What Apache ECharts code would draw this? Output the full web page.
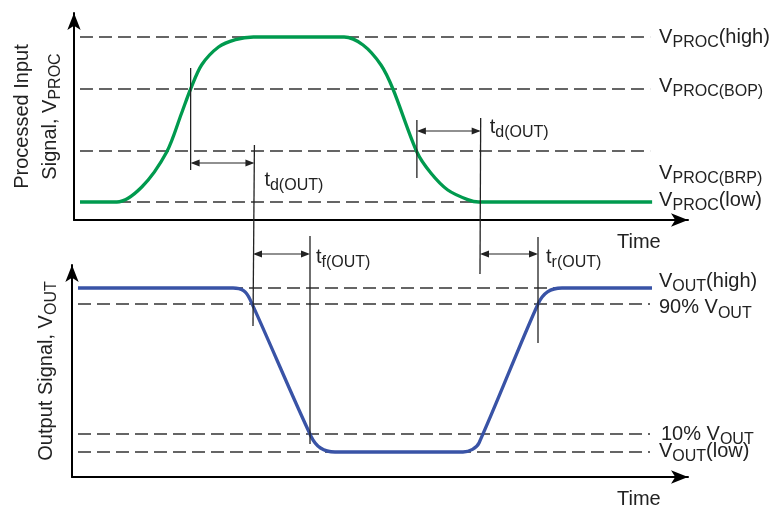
<!DOCTYPE html>
<html>
<head>
<meta charset="utf-8">
<script src="https://cdn.jsdelivr.net/npm/echarts@6/dist/echarts.min.js"></script>
<style>
  html, body { margin: 0; padding: 0; background: #fff; }
  #chart { width: 778px; height: 512px; }
</style>
</head>
<body>
<div id="chart"></div>
<script>
  // time axis is shared by both panels (arbitrary units), levels in arbitrary volts
  var timeMax = 123.2;

  // processed input signal V_PROC
  var procT = [1.2, 8.6, 13.6, 18.6, 21.6, 23.4, 25.6, 29, 32.4, 36, 54.2, 58, 61.6, 64, 68.8, 71.6, 75, 79, 81.2, 116];
  var procV = [0.9, 0.9, 1.65, 3.4, 5.35, 6.55, 7.75, 8.65, 9.02, 9.15, 9.15, 8.75, 7.75, 6.55, 3.4, 2.35, 1.5, 1.02, 0.9, 0.9];
  var procLevels = [9.15, 6.55, 3.45, 0.9];
  var procNames = ['V{s|PROC}(high)', 'V{s|PROC(BOP)}', 'V{s|PROC(BRP)}', 'V{s|PROC}(low)'];

  // output signal V_OUT
  var outT = [1.2, 32.2, 34.3, 35.6, 47.8, 49.7, 52.6, 78.2, 80.1, 81.4, 93.2, 95.1, 98, 116];
  var outV = [9.45, 9.45, 9.32, 8.88, 2.04, 1.45, 1.25, 1.25, 1.38, 1.7, 8.65, 9.26, 9.45, 9.45];
  var outLevels = [9.45, 8.65, 2.15, 1.25];
  var outNames = ['V{s|OUT}(high)', '90% V{s|OUT}', '10% V{s|OUT}', 'V{s|OUT}(low)'];

  // dashed reference levels run over this time span
  var levelSpan = [1.2, 115.6];

  // vertical markers: time, [panel, level] at the upper end, [panel, level] at the lower end
  var markT = [23.4, 36.2, 68.8, 81.6, 47.6, 93.2];
  var markFrom = [[0, 7.6], [0, 3.75], [0, 5.0], [0, 5.1], [1, 12.05], [1, 12.0]];
  var markTo = [[0, 2.5], [1, 7.55], [0, 2.1], [1, 10.15], [1, 1.65], [1, 6.7]];

  // timing intervals (double arrows)
  var spanFrom = [23.4, 68.8, 36.2, 81.6];
  var spanTo = [36.2, 81.6, 47.6, 93.2];
  var spanLevel = [[0, 2.85], [0, 4.45], [1, 11.15], [1, 11.15]];
  var spanNames = ['t{s|d(OUT)}', 't{s|d(OUT)}', 't{s|f(OUT)}', 't{s|r(OUT)}'];

  var FONT = 'Liberation Sans, Arial, sans-serif';
  var INK = '#222';
  var subRich = { s: { fontSize: 16, fontFamily: FONT, color: INK, lineHeight: 14, verticalAlign: 'bottom' } };

  function zip(xs, ys) {
    return xs.map(function (x, i) { return [x, ys[i]]; });
  }

  function axisPair(g, yMax, title, gap) {
    var line = {
      show: true,
      onZero: false,
      lineStyle: { color: '#000', width: 2 },
      symbol: ['none', 'arrow'],
      symbolSize: [10, 17]
    };
    return {
      x: {
        type: 'value', gridIndex: g, min: 0, max: timeMax,
        axisLine: line, axisTick: { show: false }, axisLabel: { show: false }, splitLine: { show: false },
        name: 'Time', nameLocation: 'end', nameGap: -71,
        nameTextStyle: { fontSize: 20, fontFamily: FONT, color: INK, align: 'left', verticalAlign: 'top', padding: [12, 0, 0, 0] }
      },
      y: {
        type: 'value', gridIndex: g, min: 0, max: yMax,
        axisLine: line, axisTick: { show: false }, axisLabel: { show: false }, splitLine: { show: false },
        name: title, nameLocation: 'middle', nameRotate: 90, nameGap: gap,
        nameTextStyle: { fontSize: 20, fontFamily: FONT, color: INK, lineHeight: 28, rich: subRich }
      }
    };
  }

  var inAxes = axisPair(0, 10.35, 'Processed Input\nSignal, V{s|PROC}', 10);
  var outAxes = axisPair(1, 10.6, 'Output Signal, V{s|OUT}', 12);

  var series = [];
  function levelSeries(levels, g) {
    levels.forEach(function (v) {
      series.push({
        type: 'line', xAxisIndex: g, yAxisIndex: g, silent: true, symbol: 'none',
        data: [[levelSpan[0], v], [levelSpan[1], v]],
        lineStyle: { color: '#333', width: 1.3, type: [13, 6] },
        z: 2
      });
    });
  }
  levelSeries(procLevels, 0);
  levelSeries(outLevels, 1);

  series.push({
    name: 'V_PROC', type: 'line', xAxisIndex: 0, yAxisIndex: 0, symbol: 'none', smooth: 0.3,
    data: zip(procT, procV), lineStyle: { color: '#009a4e', width: 3.3 }, z: 3
  });
  series.push({
    name: 'V_OUT', type: 'line', xAxisIndex: 1, yAxisIndex: 1, symbol: 'none', smooth: 0.3,
    data: zip(outT, outV), lineStyle: { color: '#3953a6', width: 3.3 }, z: 3
  });

  var chart = echarts.init(document.getElementById('chart'));
  chart.setOption({
    animation: false,
    backgroundColor: '#fff',
    grid: [
      { left: 72, width: 616, top: 13, height: 207 },
      { left: 72, width: 616, top: 265, height: 212 }
    ],
    xAxis: [inAxes.x, outAxes.x],
    yAxis: [inAxes.y, outAxes.y],
    series: series
  });

  function px(g, t, v) {
    return chart.convertToPixel({ gridIndex: g }, [t, v]);
  }

  function textEl(x, y, str) {
    return {
      type: 'text', x: x, y: y, z: 10,
      style: {
        text: str, fill: INK, fontSize: 20, fontFamily: FONT,
        align: 'left', verticalAlign: 'middle', lineHeight: 28,
        rich: subRich
      }
    };
  }

  var els = [];

  // level labels at the right edge
  var procDy = [0, -3, 22, -2];
  var outDy = [-7, 3.5, 0, -1];
  procLevels.forEach(function (v, i) {
    var p = px(0, levelSpan[1], v);
    els.push(textEl(p[0] + 9, p[1] + procDy[i], procNames[i]));
  });
  outLevels.forEach(function (v, i) {
    var p = px(1, levelSpan[1], v);
    els.push(textEl(p[0] + 9 + (i === 2 ? 2 : 0), p[1] + outDy[i], outNames[i]));
  });

  // vertical markers
  markT.forEach(function (t, i) {
    var a = px(markFrom[i][0], t, markFrom[i][1]);
    var b = px(markTo[i][0], t, markTo[i][1]);
    els.push({
      type: 'line', z: 9,
      shape: { x1: a[0], y1: a[1], x2: b[0], y2: b[1] },
      style: { stroke: INK, lineWidth: 1.3 }
    });
  });

  // double arrows with interval labels
  var labelDx = [10, 9, 6, 8];
  var labelDy = [17, -4, 3, 3];
  spanFrom.forEach(function (t0, i) {
    var a = px(spanLevel[i][0], t0, spanLevel[i][1]);
    var b = px(spanLevel[i][0], spanTo[i], spanLevel[i][1]);
    var y = a[1], hl = 9, hw = 3.5;
    els.push({
      type: 'line', z: 9,
      shape: { x1: a[0] + 2, y1: y, x2: b[0] - 2, y2: y },
      style: { stroke: INK, lineWidth: 1.2 }
    });
    els.push({
      type: 'polygon', z: 9,
      shape: { points: [[a[0], y], [a[0] + hl, y - hw], [a[0] + hl, y + hw]] },
      style: { fill: INK }
    });
    els.push({
      type: 'polygon', z: 9,
      shape: { points: [[b[0], y], [b[0] - hl, y - hw], [b[0] - hl, y + hw]] },
      style: { fill: INK }
    });
    els.push(textEl(b[0] + labelDx[i], y + labelDy[i], spanNames[i]));
  });

  chart.setOption({ graphic: { elements: els } });
</script>
</body>
</html>
